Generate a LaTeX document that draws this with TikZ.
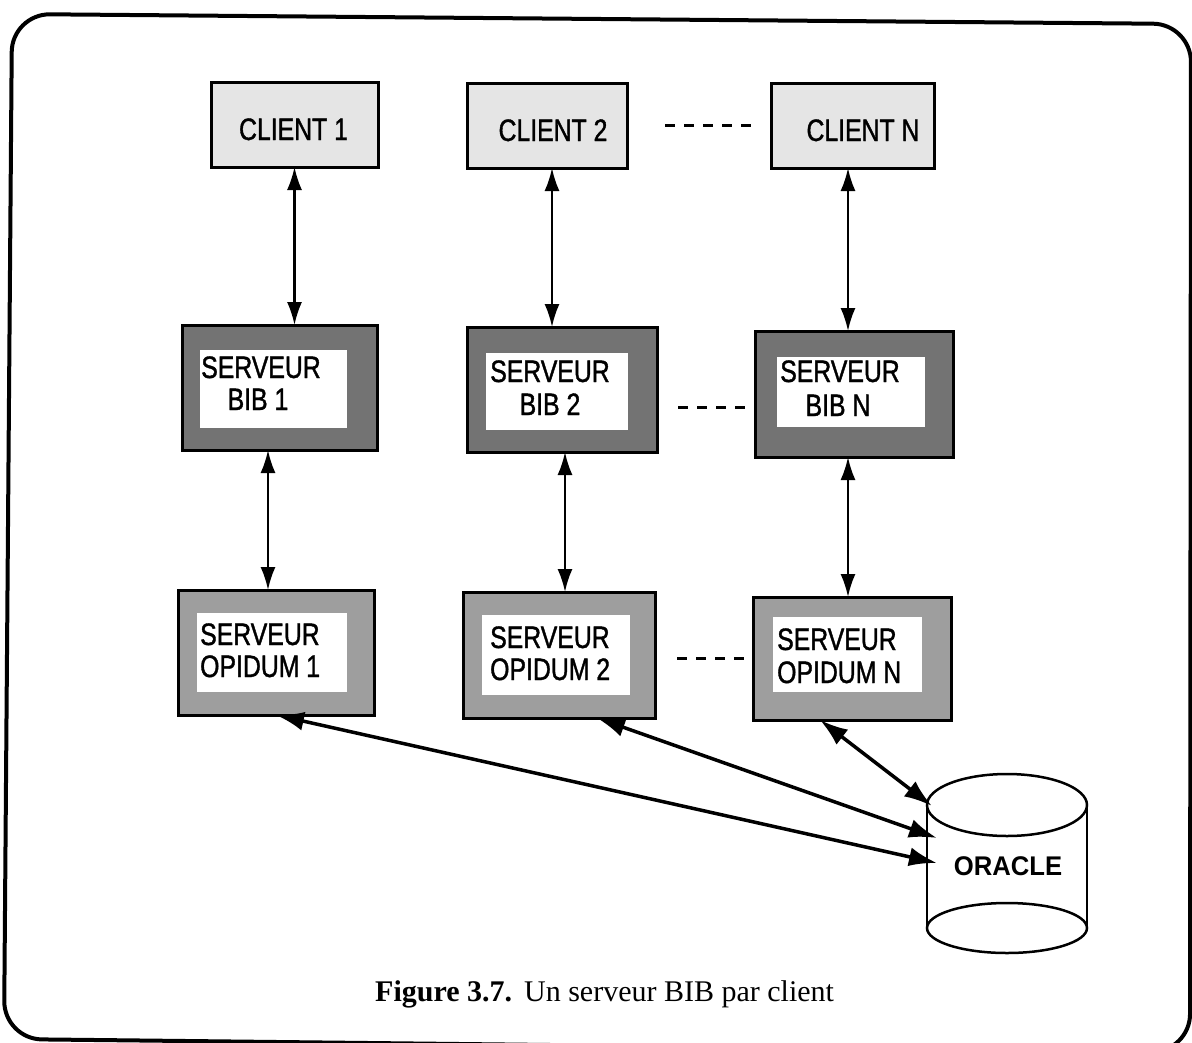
\documentclass[tikz,border=0pt]{standalone}
\usepackage{fontspec}
\setmainfont{Liberation Serif}
\newfontfamily\boxfont[FakeStretch=0.8,FakeBold=1.2]{Liberation Sans}
\newfontfamily\orafont[FakeStretch=0.95]{Liberation Sans}
\newfontfamily\capfont{Liberation Serif}
\usetikzlibrary{arrows.meta}
\tikzset{
  sz/.style 2 args={minimum width=#1pt, minimum height=#2pt},
  boxbase/.style={draw=black, line width=3pt, inner sep=0pt, outer sep=0pt},
  clientbox/.style={boxbase, fill=black!10},
  bibbox/.style={boxbase, fill=black!55},
  opibox/.style={boxbase, fill=black!38},
  lbl/.style={font=\boxfont\fontsize{31}{33}\selectfont, inner sep=0pt},
  lblc/.style={lbl, anchor=base},
  lblw/.style={lbl, anchor=base west},
  varr/.style={{Latex[length=23pt,width=15pt]}-{Latex[length=23pt,width=15pt]}, line width=2.2pt},
  darr/.style={{Latex[length=28pt,width=19pt]}-{Latex[length=28pt,width=19pt]}, line width=3.5pt},
  dashline/.style={dash pattern=on 10pt off 9pt, line width=3pt},
  cyl/.style={line width=2.5pt}
}
\begin{document}
\begin{tikzpicture}[x=1pt,y=-1pt]
\useasboundingbox (0,0) rectangle (1192,1042);
\clip (0,0) rectangle (1192,1042);
\fill[white] (0,0) rectangle (1192,1042);
% frame
\draw[line width=4pt, rounded corners=38pt] (12,14) -- (1191,24) -- (1190,1052) -- (4,1039) -- cycle;

% clients
\node[clientbox, sz={167}{85}] (c1) at (294.5,124.5) {};
\node[clientbox, sz={160}{85}] (c2) at (547,125.5) {};
\node[clientbox, sz={163}{85}] (cN) at (852.5,125.5) {};
\node[lblc] (c1t) at (293.5,140) {CLIENT 1};
\node[lblc] (c2t) at (553,141) {CLIENT 2};
\node[lblc] (cNt) at (863,141) {CLIENT N};

% BIB servers
\node[bibbox, sz={195}{125}] (b1) at (279.5,387.5) {};
\node[bibbox, sz={190}{125}] (b2) at (562,389.5) {};
\node[bibbox, sz={198}{126}] (bN) at (854,394) {};
\fill[white] (200,350) rectangle (347,428);
\fill[white] (486,353) rectangle (628,430);
\fill[white] (777,357) rectangle (925,427);
\node[lblc] (b1s) at (261,378) {SERVEUR};
\node[lblc] (b1n) at (258,410) {BIB 1};
\node[lblc] (b2s) at (550,382) {SERVEUR};
\node[lblc] (b2n) at (550,415) {BIB 2};
\node[lblc] (bNs) at (840,382) {SERVEUR};
\node[lblc] (bNn) at (838,416) {BIB N};

% OPIDUM servers
\node[opibox, sz={196}{125}] (o1) at (276,652.5) {};
\node[opibox, sz={192}{126}] (o2) at (559,655) {};
\node[opibox, sz={198}{123}] (oN) at (852,658.5) {};
\fill[white] (197,613) rectangle (347,692);
\fill[white] (482,615) rectangle (630,695);
\fill[white] (773,617) rectangle (922,692);
\node[lblw] (o1s) at (200,645) {SERVEUR};
\node[lblw] (o1n) at (200,677) {OPIDUM 1};
\node[lblw] (o2s) at (490,648) {SERVEUR};
\node[lblw] (o2n) at (490,680) {OPIDUM 2};
\node[lblw] (oNs) at (777,650) {SERVEUR};
\node[lblw] (oNn) at (777,683) {OPIDUM N};

% vertical arrows
\draw[varr] (c1.south) -- (c1.south |- b1.north);
\draw[varr] ([xshift=5pt]c2.south) coordinate (a2) -- (a2 |- b2.north);
\draw[varr] ([xshift=-4.5pt]cN.south) coordinate (a3) -- (a3 |- bN.north);
\draw[varr] ([xshift=-11.5pt]b1.south) coordinate (a4) -- (a4 |- o1.north);
\draw[varr] ([xshift=3pt]b2.south) coordinate (a5) -- (a5 |- o2.north);
\draw[varr] ([xshift=-6pt]bN.south) coordinate (a6) -- (a6 |- oN.north);

% dashed links
\draw[dashline, shorten <=38pt, shorten >=14pt] (c2.east) -- (cN.west);
\draw[dashline, shorten <=21pt, shorten >=3pt] ([yshift=-17.5pt]b2.east) coordinate (d1) -- (d1 -| bN.west);
\draw[dashline, shorten <=22pt, shorten >=3pt] ([yshift=-3pt]o2.east) coordinate (d2) -- (d2 -| oN.west);

% ORACLE cylinder
\draw[cyl] (1007,805) ellipse [x radius=80pt, y radius=31pt];
\draw[cyl] (927,805) -- (927,928);
\draw[cyl] (1087,805) -- (1087,928);
\draw[cyl] (1007,928) ellipse [x radius=80pt, y radius=25pt];
\node[font=\orafont\bfseries\fontsize{27}{29}\selectfont, anchor=base, inner sep=0pt] (oracle) at (1008,875) {ORACLE};
\coordinate (orA) at (932,806);
\coordinate (orB) at (937,838);
\coordinate (orC) at (937,863);

% arrows to ORACLE
\draw[darr] (o1.south) -- (orC);
\draw[darr] ([xshift=38pt]o2.south) -- (orB);
\draw[darr] ([xshift=-32pt]oN.south) -- (orA);

% caption
\node[anchor=base west, inner sep=0pt, font=\capfont\fontsize{30}{32}\selectfont] (cap) at (375,1001) {\textbf{Figure 3.7.}\hspace{12pt}Un serveur BIB par client};
\end{tikzpicture}
\end{document}
